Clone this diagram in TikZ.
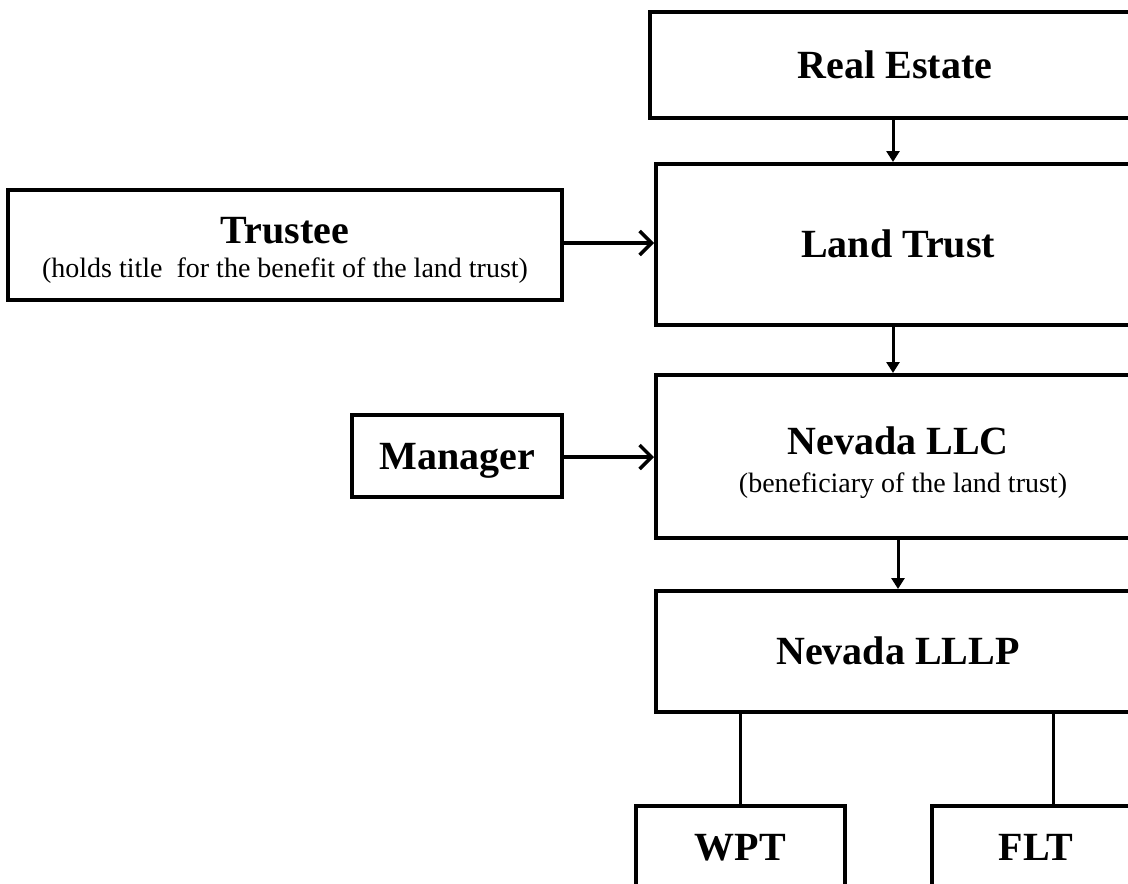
\documentclass[tikz,border=0pt]{standalone}
\usepackage{fontspec}
\setmainfont{Liberation Serif}
\usetikzlibrary{arrows.meta}
\begin{document}
\begin{tikzpicture}[x=1pt,y=-1pt,
  box/.style={draw, line width=4pt, inner sep=0pt, align=center,
    font=\fontsize{40}{48}\selectfont\bfseries, text height=26.5pt, text depth=0pt},
  ttl/.style={font=\fontsize{40}{48}\selectfont\bfseries, inner sep=0pt, anchor=base},
  sub/.style={font=\fontsize{28}{34}\selectfont, inner sep=0pt, anchor=base},
  downarrow/.style={line width=3pt, -{Triangle[length=11pt,width=13pt]}},
  sidearrow/.style={line width=3.5pt, -{Straight Barb[length=12pt,width=24pt,line width=3.5pt]}},
  link/.style={line width=3pt}
]
\useasboundingbox (0,0) rectangle (1128,884);
\fill[white] (0,0) rectangle (1128,884);
\clip (0,0) rectangle (1128,884);

% main column
\node[box, minimum width=490pt, minimum height=106pt] (re) at (895,65) {Real Estate};
\node[box, minimum width=484pt, minimum height=161pt] (lt) at (898,244.5) {Land Trust};
\node[box, minimum width=484pt, minimum height=163pt] (llc) at (898,456.5) {};
\node[ttl] (llct) at (898,454) {Nevada LLC};
\node[sub] (llcs) at (903,492) {(beneficiary of the land trust)};
\node[box, minimum width=484pt, minimum height=121pt] (lllp) at (898,651.5) {Nevada LLLP};

% side boxes
\node[box, minimum width=554pt, minimum height=110pt] (tr) at (285,245) {};
\node[ttl] (trt) at (285,243) {Trustee};
\node[sub] (trs) at (285,277) {(holds title~ for the benefit of the land trust)};
\node[box, minimum width=210pt, minimum height=82pt] (mgr) at (457,456) {Manager};

% bottom boxes
\node[box, minimum width=209pt, minimum height=82pt] (wpt) at (740.5,847) {WPT};
\node[box, minimum width=208pt, minimum height=82pt] (flt) at (1036,847) {FLT};

% connectors
\draw[downarrow] (re.south -| 893,0) -- (lt.north -| 893,0);
\draw[downarrow] (lt.south -| 893,0) -- (llc.north -| 893,0);
\draw[downarrow] (llc.south) -- (lllp.north);
\draw[sidearrow] (tr.east |- 0,243) -- (lt.west |- 0,243);
\draw[sidearrow] (mgr.east |- 0,457) -- (llc.west |- 0,457);
\draw[link] (lllp.south -| wpt.north) -- (wpt.north);
\draw[link] (lllp.south -| 1053,0) -- (flt.north -| 1053,0);
\end{tikzpicture}
\end{document}
